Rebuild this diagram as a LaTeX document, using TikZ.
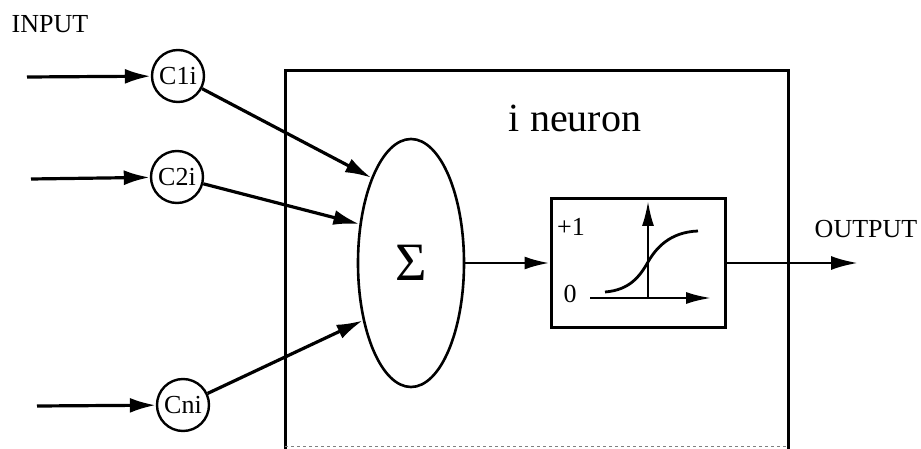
\documentclass[tikz,border=0pt]{standalone}
\usepackage{fontspec}
\setmainfont{Liberation Serif}
\usetikzlibrary{arrows.meta,shapes.geometric}

\tikzset{
  weight/.style={draw,circle,line width=2.4pt,minimum size=52pt,inner sep=0pt,
    font=\fontsize{26}{28}\selectfont},
  conn/.style={line width=3.2pt,-{Latex[length=26pt,width=15pt]}},
  axis/.style={line width=2.4pt,-{Latex[length=25pt,width=12pt]}},
  lbl/.style={font=\fontsize{26}{28}\selectfont,inner sep=0pt},
}

\begin{document}
\begin{tikzpicture}[x=1pt,y=-1pt]
\useasboundingbox (0,0) rectangle (921,449);

% ===== Neuron box =====
\draw[line width=3pt] (285,449) -- (285,71) -- (788,71) -- (788,449);
\draw[gray,dashed,line width=1pt] (285,446) -- (788,446);
\node[font=\fontsize{40}{44}\selectfont,inner sep=0pt] (title) at (575,118) {i neuron};

% ===== Weights =====
\node[lbl] (input) at (50,24) {INPUT};
\node[weight] (c1) at (178,76) {C1i};
\node[weight] (c2) at (177,177) {C2i};
\node[weight] (cn) at (183,405) {Cni};

\coordinate (in1) at (27,77);
\coordinate (in2) at (31,179);
\coordinate (inn) at (37,406);

\draw[conn] (in1) -- (c1);
\draw[conn] (in2) -- (c2);
\draw[conn] (inn) -- (cn);

% ===== Summation =====
\node[draw,ellipse,line width=2.6pt,minimum width=106pt,minimum height=248pt,inner sep=0pt,
  font=\fontsize{54}{56}\selectfont] (sum) at (411,263) {\raisebox{-9pt}{Σ}};

\draw[conn] (c1) -- (sum.115);
\draw[conn] (c2) -- (sum.143);
\draw[conn] (cn) -- (sum.230);

% ===== Activation =====
\node[draw,line width=3pt,minimum width=174pt,minimum height=128pt,inner sep=0pt] (act) at (638,263) {};
\node[lbl] (one) at (571,227) {+1};
\node[lbl] (zero) at (570,294) {0};

\coordinate (orig) at (648,298);
\coordinate (xstart) at (590,298);
\coordinate (xend) at (711,298);
\coordinate (yend) at (648,201);
\draw[axis] (xstart) -- (xend);
\draw[axis] (orig) -- (yend);
\draw[line width=2.8pt] (605,292) .. controls (630,290) and (640,276) .. (648,262)
  .. controls (656,248) and (670,232) .. (698,231);

\draw[line width=2.8pt,-{Latex[length=25pt,width=13pt]}] (sum.east) -- (sum.east -| act.west);

% ===== Output =====
\node[lbl] (output) at (866,229) {OUTPUT};
\coordinate (out) at (858,263);
\draw[line width=2.8pt,-{Latex[length=27pt,width=14pt]}] (act.east) -- (act.east -| out);

\end{tikzpicture}
\end{document}
